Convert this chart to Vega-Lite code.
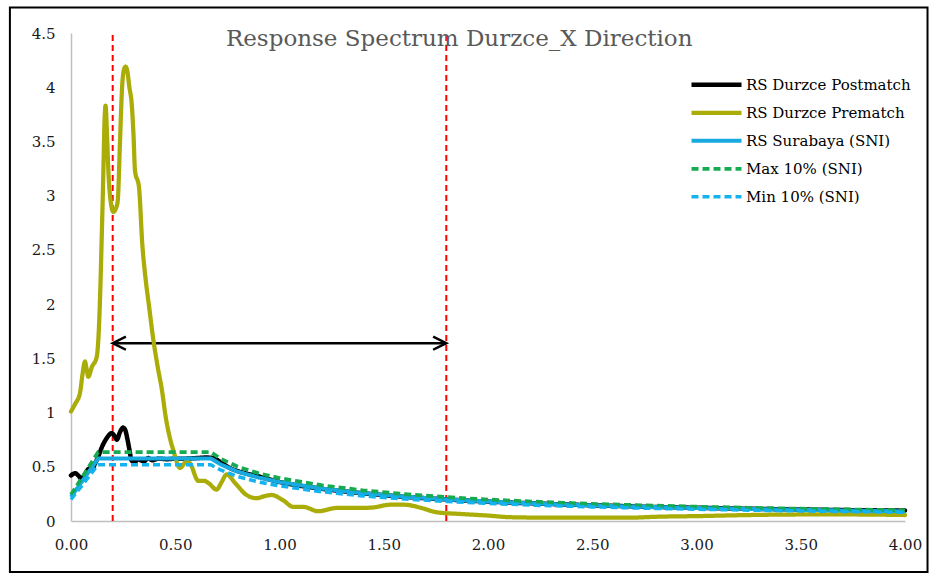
{
  "$schema": "https://vega.github.io/schema/vega-lite/v6.json",
  "autosize": {"type": "none"},
  "width": 834,
  "height": 488,
  "padding": {"left": 71, "top": 33, "right": 25, "bottom": 53},
  "background": "white",
  "config": {
    "view": {"stroke": null},
    "font": "DejaVu Serif",
    "axis": {
      "domainColor": "#BFBFBF",
      "domainWidth": 1.5,
      "ticks": false,
      "grid": false,
      "labelFlush": false,
      "labelFont": "DejaVu Serif",
      "labelFontSize": 15,
      "labelColor": "#1a1a1a",
      "title": null
    },
    "legend": {
      "labelFont": "DejaVu Serif",
      "labelFontSize": 15,
      "labelColor": "#000000",
      "labelLimit": 300
    }
  },
  "datasets": {
    "series": [
      {"s": "RS Durzce Postmatch", "t": 0, "v": 0.42},
      {"s": "RS Durzce Postmatch", "t": 0.02, "v": 0.44},
      {"s": "RS Durzce Postmatch", "t": 0.035, "v": 0.42},
      {"s": "RS Durzce Postmatch", "t": 0.05, "v": 0.39},
      {"s": "RS Durzce Postmatch", "t": 0.07, "v": 0.44},
      {"s": "RS Durzce Postmatch", "t": 0.085, "v": 0.48},
      {"s": "RS Durzce Postmatch", "t": 0.1, "v": 0.47},
      {"s": "RS Durzce Postmatch", "t": 0.115, "v": 0.53},
      {"s": "RS Durzce Postmatch", "t": 0.13, "v": 0.59},
      {"s": "RS Durzce Postmatch", "t": 0.15, "v": 0.69},
      {"s": "RS Durzce Postmatch", "t": 0.17, "v": 0.76},
      {"s": "RS Durzce Postmatch", "t": 0.195, "v": 0.81},
      {"s": "RS Durzce Postmatch", "t": 0.21, "v": 0.78},
      {"s": "RS Durzce Postmatch", "t": 0.22, "v": 0.75},
      {"s": "RS Durzce Postmatch", "t": 0.235, "v": 0.82},
      {"s": "RS Durzce Postmatch", "t": 0.25, "v": 0.86},
      {"s": "RS Durzce Postmatch", "t": 0.26, "v": 0.84},
      {"s": "RS Durzce Postmatch", "t": 0.27, "v": 0.76},
      {"s": "RS Durzce Postmatch", "t": 0.28, "v": 0.66},
      {"s": "RS Durzce Postmatch", "t": 0.29, "v": 0.56},
      {"s": "RS Durzce Postmatch", "t": 0.305, "v": 0.54},
      {"s": "RS Durzce Postmatch", "t": 0.32, "v": 0.57},
      {"s": "RS Durzce Postmatch", "t": 0.335, "v": 0.56},
      {"s": "RS Durzce Postmatch", "t": 0.35, "v": 0.55},
      {"s": "RS Durzce Postmatch", "t": 0.37, "v": 0.58},
      {"s": "RS Durzce Postmatch", "t": 0.39, "v": 0.56},
      {"s": "RS Durzce Postmatch", "t": 0.42, "v": 0.575},
      {"s": "RS Durzce Postmatch", "t": 0.46, "v": 0.57},
      {"s": "RS Durzce Postmatch", "t": 0.5, "v": 0.575},
      {"s": "RS Durzce Postmatch", "t": 0.55, "v": 0.575},
      {"s": "RS Durzce Postmatch", "t": 0.6, "v": 0.58},
      {"s": "RS Durzce Postmatch", "t": 0.65, "v": 0.585},
      {"s": "RS Durzce Postmatch", "t": 0.68, "v": 0.58},
      {"s": "RS Durzce Postmatch", "t": 0.72, "v": 0.54},
      {"s": "RS Durzce Postmatch", "t": 0.76, "v": 0.49},
      {"s": "RS Durzce Postmatch", "t": 0.8, "v": 0.46},
      {"s": "RS Durzce Postmatch", "t": 0.9, "v": 0.41},
      {"s": "RS Durzce Postmatch", "t": 1.0, "v": 0.36},
      {"s": "RS Durzce Postmatch", "t": 1.2, "v": 0.298},
      {"s": "RS Durzce Postmatch", "t": 1.4, "v": 0.256},
      {"s": "RS Durzce Postmatch", "t": 1.6, "v": 0.223},
      {"s": "RS Durzce Postmatch", "t": 1.8, "v": 0.199},
      {"s": "RS Durzce Postmatch", "t": 2.0, "v": 0.179},
      {"s": "RS Durzce Postmatch", "t": 2.25, "v": 0.16},
      {"s": "RS Durzce Postmatch", "t": 2.5, "v": 0.145},
      {"s": "RS Durzce Postmatch", "t": 2.75, "v": 0.132},
      {"s": "RS Durzce Postmatch", "t": 3.0, "v": 0.122},
      {"s": "RS Durzce Postmatch", "t": 3.25, "v": 0.113},
      {"s": "RS Durzce Postmatch", "t": 3.5, "v": 0.106},
      {"s": "RS Durzce Postmatch", "t": 3.75, "v": 0.1},
      {"s": "RS Durzce Postmatch", "t": 4.0, "v": 0.096},

      {"s": "RS Durzce Prematch", "t": 0, "v": 1.01},
      {"s": "RS Durzce Prematch", "t": 0.02, "v": 1.08},
      {"s": "RS Durzce Prematch", "t": 0.043, "v": 1.18},
      {"s": "RS Durzce Prematch", "t": 0.055, "v": 1.35},
      {"s": "RS Durzce Prematch", "t": 0.067, "v": 1.47},
      {"s": "RS Durzce Prematch", "t": 0.075, "v": 1.4},
      {"s": "RS Durzce Prematch", "t": 0.083, "v": 1.33},
      {"s": "RS Durzce Prematch", "t": 0.1, "v": 1.42},
      {"s": "RS Durzce Prematch", "t": 0.123, "v": 1.51},
      {"s": "RS Durzce Prematch", "t": 0.131, "v": 1.67},
      {"s": "RS Durzce Prematch", "t": 0.14, "v": 2.1},
      {"s": "RS Durzce Prematch", "t": 0.147, "v": 2.59},
      {"s": "RS Durzce Prematch", "t": 0.155, "v": 3.2},
      {"s": "RS Durzce Prematch", "t": 0.161, "v": 3.7},
      {"s": "RS Durzce Prematch", "t": 0.166, "v": 3.83},
      {"s": "RS Durzce Prematch", "t": 0.172, "v": 3.6},
      {"s": "RS Durzce Prematch", "t": 0.18, "v": 3.2},
      {"s": "RS Durzce Prematch", "t": 0.19, "v": 2.95},
      {"s": "RS Durzce Prematch", "t": 0.203, "v": 2.85},
      {"s": "RS Durzce Prematch", "t": 0.215, "v": 2.88},
      {"s": "RS Durzce Prematch", "t": 0.224, "v": 2.95},
      {"s": "RS Durzce Prematch", "t": 0.235, "v": 3.5},
      {"s": "RS Durzce Prematch", "t": 0.245, "v": 4.0},
      {"s": "RS Durzce Prematch", "t": 0.255, "v": 4.17},
      {"s": "RS Durzce Prematch", "t": 0.262, "v": 4.19},
      {"s": "RS Durzce Prematch", "t": 0.27, "v": 4.15},
      {"s": "RS Durzce Prematch", "t": 0.28, "v": 4.0},
      {"s": "RS Durzce Prematch", "t": 0.291, "v": 3.85},
      {"s": "RS Durzce Prematch", "t": 0.3, "v": 3.55},
      {"s": "RS Durzce Prematch", "t": 0.307, "v": 3.23},
      {"s": "RS Durzce Prematch", "t": 0.326, "v": 3.08},
      {"s": "RS Durzce Prematch", "t": 0.342, "v": 2.55},
      {"s": "RS Durzce Prematch", "t": 0.355, "v": 2.28},
      {"s": "RS Durzce Prematch", "t": 0.375, "v": 1.97},
      {"s": "RS Durzce Prematch", "t": 0.395, "v": 1.67},
      {"s": "RS Durzce Prematch", "t": 0.415, "v": 1.43},
      {"s": "RS Durzce Prematch", "t": 0.435, "v": 1.22},
      {"s": "RS Durzce Prematch", "t": 0.455, "v": 0.95},
      {"s": "RS Durzce Prematch", "t": 0.475, "v": 0.76},
      {"s": "RS Durzce Prematch", "t": 0.491, "v": 0.65},
      {"s": "RS Durzce Prematch", "t": 0.523, "v": 0.49},
      {"s": "RS Durzce Prematch", "t": 0.555, "v": 0.55},
      {"s": "RS Durzce Prematch", "t": 0.571, "v": 0.53},
      {"s": "RS Durzce Prematch", "t": 0.611, "v": 0.37},
      {"s": "RS Durzce Prematch", "t": 0.64, "v": 0.37},
      {"s": "RS Durzce Prematch", "t": 0.659, "v": 0.35},
      {"s": "RS Durzce Prematch", "t": 0.699, "v": 0.29},
      {"s": "RS Durzce Prematch", "t": 0.72, "v": 0.35},
      {"s": "RS Durzce Prematch", "t": 0.747, "v": 0.43},
      {"s": "RS Durzce Prematch", "t": 0.787, "v": 0.35},
      {"s": "RS Durzce Prematch", "t": 0.842, "v": 0.24},
      {"s": "RS Durzce Prematch", "t": 0.89, "v": 0.21},
      {"s": "RS Durzce Prematch", "t": 0.93, "v": 0.23},
      {"s": "RS Durzce Prematch", "t": 0.962, "v": 0.24},
      {"s": "RS Durzce Prematch", "t": 1.018, "v": 0.19},
      {"s": "RS Durzce Prematch", "t": 1.066, "v": 0.13},
      {"s": "RS Durzce Prematch", "t": 1.114, "v": 0.13},
      {"s": "RS Durzce Prematch", "t": 1.186, "v": 0.09},
      {"s": "RS Durzce Prematch", "t": 1.274, "v": 0.12},
      {"s": "RS Durzce Prematch", "t": 1.386, "v": 0.12},
      {"s": "RS Durzce Prematch", "t": 1.45, "v": 0.125},
      {"s": "RS Durzce Prematch", "t": 1.53, "v": 0.15},
      {"s": "RS Durzce Prematch", "t": 1.6, "v": 0.15},
      {"s": "RS Durzce Prematch", "t": 1.68, "v": 0.12},
      {"s": "RS Durzce Prematch", "t": 1.754, "v": 0.08},
      {"s": "RS Durzce Prematch", "t": 1.866, "v": 0.065},
      {"s": "RS Durzce Prematch", "t": 2.0, "v": 0.05},
      {"s": "RS Durzce Prematch", "t": 2.105, "v": 0.035},
      {"s": "RS Durzce Prematch", "t": 2.345, "v": 0.03},
      {"s": "RS Durzce Prematch", "t": 2.665, "v": 0.03},
      {"s": "RS Durzce Prematch", "t": 2.825, "v": 0.04},
      {"s": "RS Durzce Prematch", "t": 3.0, "v": 0.045},
      {"s": "RS Durzce Prematch", "t": 3.25, "v": 0.055},
      {"s": "RS Durzce Prematch", "t": 3.5, "v": 0.06},
      {"s": "RS Durzce Prematch", "t": 3.75, "v": 0.06},
      {"s": "RS Durzce Prematch", "t": 4.0, "v": 0.055},

      {"s": "RS Surabaya (SNI)", "t": 0, "v": 0.22},
      {"s": "RS Surabaya (SNI)", "t": 0.13, "v": 0.577},
      {"s": "RS Surabaya (SNI)", "t": 0.67, "v": 0.577},
      {"s": "RS Surabaya (SNI)", "t": 0.72, "v": 0.52},
      {"s": "RS Surabaya (SNI)", "t": 0.8, "v": 0.455},
      {"s": "RS Surabaya (SNI)", "t": 0.9, "v": 0.4},
      {"s": "RS Surabaya (SNI)", "t": 1.0, "v": 0.36},
      {"s": "RS Surabaya (SNI)", "t": 1.2, "v": 0.3},
      {"s": "RS Surabaya (SNI)", "t": 1.4, "v": 0.257},
      {"s": "RS Surabaya (SNI)", "t": 1.6, "v": 0.225},
      {"s": "RS Surabaya (SNI)", "t": 1.8, "v": 0.2},
      {"s": "RS Surabaya (SNI)", "t": 2.0, "v": 0.18},
      {"s": "RS Surabaya (SNI)", "t": 2.25, "v": 0.16},
      {"s": "RS Surabaya (SNI)", "t": 2.5, "v": 0.144},
      {"s": "RS Surabaya (SNI)", "t": 2.75, "v": 0.131},
      {"s": "RS Surabaya (SNI)", "t": 3.0, "v": 0.12},
      {"s": "RS Surabaya (SNI)", "t": 3.25, "v": 0.111},
      {"s": "RS Surabaya (SNI)", "t": 3.5, "v": 0.103},
      {"s": "RS Surabaya (SNI)", "t": 3.75, "v": 0.096},
      {"s": "RS Surabaya (SNI)", "t": 4.0, "v": 0.09},

      {"s": "Max 10% (SNI)", "t": 0, "v": 0.242},
      {"s": "Max 10% (SNI)", "t": 0.13, "v": 0.635},
      {"s": "Max 10% (SNI)", "t": 0.67, "v": 0.635},
      {"s": "Max 10% (SNI)", "t": 0.72, "v": 0.572},
      {"s": "Max 10% (SNI)", "t": 0.8, "v": 0.5},
      {"s": "Max 10% (SNI)", "t": 0.9, "v": 0.44},
      {"s": "Max 10% (SNI)", "t": 1.0, "v": 0.396},
      {"s": "Max 10% (SNI)", "t": 1.2, "v": 0.33},
      {"s": "Max 10% (SNI)", "t": 1.4, "v": 0.283},
      {"s": "Max 10% (SNI)", "t": 1.6, "v": 0.248},
      {"s": "Max 10% (SNI)", "t": 1.8, "v": 0.22},
      {"s": "Max 10% (SNI)", "t": 2.0, "v": 0.198},
      {"s": "Max 10% (SNI)", "t": 2.25, "v": 0.176},
      {"s": "Max 10% (SNI)", "t": 2.5, "v": 0.158},
      {"s": "Max 10% (SNI)", "t": 2.75, "v": 0.144},
      {"s": "Max 10% (SNI)", "t": 3.0, "v": 0.132},
      {"s": "Max 10% (SNI)", "t": 3.25, "v": 0.122},
      {"s": "Max 10% (SNI)", "t": 3.5, "v": 0.113},
      {"s": "Max 10% (SNI)", "t": 3.75, "v": 0.106},
      {"s": "Max 10% (SNI)", "t": 4.0, "v": 0.099},

      {"s": "Min 10% (SNI)", "t": 0, "v": 0.198},
      {"s": "Min 10% (SNI)", "t": 0.13, "v": 0.519},
      {"s": "Min 10% (SNI)", "t": 0.67, "v": 0.519},
      {"s": "Min 10% (SNI)", "t": 0.72, "v": 0.468},
      {"s": "Min 10% (SNI)", "t": 0.8, "v": 0.41},
      {"s": "Min 10% (SNI)", "t": 0.9, "v": 0.36},
      {"s": "Min 10% (SNI)", "t": 1.0, "v": 0.324},
      {"s": "Min 10% (SNI)", "t": 1.2, "v": 0.27},
      {"s": "Min 10% (SNI)", "t": 1.4, "v": 0.231},
      {"s": "Min 10% (SNI)", "t": 1.6, "v": 0.203},
      {"s": "Min 10% (SNI)", "t": 1.8, "v": 0.18},
      {"s": "Min 10% (SNI)", "t": 2.0, "v": 0.162},
      {"s": "Min 10% (SNI)", "t": 2.25, "v": 0.144},
      {"s": "Min 10% (SNI)", "t": 2.5, "v": 0.13},
      {"s": "Min 10% (SNI)", "t": 2.75, "v": 0.118},
      {"s": "Min 10% (SNI)", "t": 3.0, "v": 0.108},
      {"s": "Min 10% (SNI)", "t": 3.25, "v": 0.1},
      {"s": "Min 10% (SNI)", "t": 3.5, "v": 0.093},
      {"s": "Min 10% (SNI)", "t": 3.75, "v": 0.086},
      {"s": "Min 10% (SNI)", "t": 4.0, "v": 0.081}
    ],
    "limits": [{"t": 0.2}, {"t": 1.8}],
    "arrow": [{"t1": 0.2, "t2": 1.8, "v": 1.64}],
    "heads": [{"t": 0.2, "v": 1.64, "side": "left"}, {"t": 1.8, "v": 1.64, "side": "right"}],
    "titles": [{"text": "Response Spectrum Durzce_X Direction", "t": 1.862, "v": 4.383}]
  },
  "layer": [
    {
      "data": {"name": "limits"},
      "mark": {"type": "rule", "color": "#FF0000", "strokeWidth": 2, "strokeDash": [6, 4]},
      "encoding": {
        "x": {"field": "t", "type": "quantitative", "scale": {"domain": [0, 4], "nice": false, "zero": false}},
        "y": {"datum": 0, "type": "quantitative", "scale": {"domain": [0, 4.5], "nice": false}},
        "y2": {"datum": 4.5}
      }
    },
    {
      "data": {"name": "arrow"},
      "mark": {"type": "rule", "color": "#000000", "strokeWidth": 2.5},
      "encoding": {
        "x": {"field": "t1", "type": "quantitative"},
        "x2": {"field": "t2"},
        "y": {"field": "v", "type": "quantitative"}
      }
    },
    {
      "data": {"name": "heads"},
      "transform": [{"filter": "datum.side === 'left'"}],
      "mark": {"type": "point", "shape": "M1.2,-0.6L0,0L1.2,0.6", "filled": false, "stroke": "#000000", "strokeWidth": 2.5, "size": 484, "opacity": 1},
      "encoding": {
        "x": {"field": "t", "type": "quantitative"},
        "y": {"field": "v", "type": "quantitative"}
      }
    },
    {
      "data": {"name": "heads"},
      "transform": [{"filter": "datum.side === 'right'"}],
      "mark": {"type": "point", "shape": "M-1.2,-0.6L0,0L-1.2,0.6", "filled": false, "stroke": "#000000", "strokeWidth": 2.5, "size": 484, "opacity": 1},
      "encoding": {
        "x": {"field": "t", "type": "quantitative"},
        "y": {"field": "v", "type": "quantitative"}
      }
    },
    {
      "data": {"name": "series"},
      "transform": [{"filter": "datum.s === 'RS Durzce Postmatch'"}],
      "mark": {"type": "line", "interpolate": "monotone", "strokeCap": "round", "strokeJoin": "round"},
      "encoding": {
        "x": {"field": "t", "type": "quantitative", "axis": {"values": [0, 0.5, 1, 1.5, 2, 2.5, 3, 3.5, 4], "format": ".2f", "labelPadding": 16}},
        "y": {"field": "v", "type": "quantitative", "axis": {"values": [0, 0.5, 1, 1.5, 2, 2.5, 3, 3.5, 4, 4.5], "format": "~g", "labelPadding": 16}},
        "color": {"field": "s", "type": "nominal", "scale": {"domain": ["RS Durzce Postmatch", "RS Durzce Prematch", "RS Surabaya (SNI)", "Max 10% (SNI)", "Min 10% (SNI)"], "range": ["#000000", "#AAAC08", "#19A9E1", "#16AA52", "#12B3EE"]},
          "legend": {"title": null, "orient": "none", "legendX": 618, "legendY": 38, "symbolType": "stroke", "symbolSize": 2500, "labelOffset": 2, "rowPadding": 0, "clipHeight": 27.5, "padding": 0, "labelLimit": 300}},
        "strokeDash": {"field": "s", "type": "nominal", "scale": {"domain": ["RS Durzce Postmatch", "RS Durzce Prematch", "RS Surabaya (SNI)", "Max 10% (SNI)", "Min 10% (SNI)"], "range": [[1, 0], [1, 0], [1, 0], [7, 4], [7, 4]]}},
        "strokeWidth": {"field": "s", "type": "nominal", "scale": {"domain": ["RS Durzce Postmatch", "RS Durzce Prematch", "RS Surabaya (SNI)", "Max 10% (SNI)", "Min 10% (SNI)"], "range": [4.5, 3.5, 2.5, 2.5, 2.5]}}
      }
    },
    {
      "data": {"name": "series"},
      "transform": [{"filter": "datum.s === 'RS Durzce Prematch'"}],
      "mark": {"type": "line", "interpolate": "monotone", "strokeCap": "round", "strokeJoin": "round"},
      "encoding": {
        "x": {"field": "t", "type": "quantitative"},
        "y": {"field": "v", "type": "quantitative"},
        "color": {"field": "s", "type": "nominal"},
        "strokeDash": {"field": "s", "type": "nominal"},
        "strokeWidth": {"field": "s", "type": "nominal"}
      }
    },
    {
      "data": {"name": "series"},
      "transform": [{"filter": "datum.s === 'RS Surabaya (SNI)' || datum.s === 'Max 10% (SNI)' || datum.s === 'Min 10% (SNI)'"}],
      "mark": {"type": "line"},
      "encoding": {
        "x": {"field": "t", "type": "quantitative"},
        "y": {"field": "v", "type": "quantitative"},
        "color": {"field": "s", "type": "nominal"},
        "strokeDash": {"field": "s", "type": "nominal"},
        "strokeWidth": {"field": "s", "type": "nominal"}
      }
    },
    {
      "data": {"name": "titles"},
      "mark": {"type": "text", "font": "DejaVu Serif", "fontSize": 23, "color": "#595959", "align": "center", "baseline": "alphabetic"},
      "encoding": {
        "x": {"field": "t", "type": "quantitative"},
        "y": {"field": "v", "type": "quantitative"},
        "text": {"field": "text"}
      }
    },
    {
      "data": {"values": [{"a": 1}]},
      "mark": {"type": "rect", "fill": null, "fillOpacity": 0, "stroke": "#000000", "strokeWidth": 2},
      "encoding": {
        "x": {"datum": -0.293, "type": "quantitative"},
        "x2": {"datum": 4.108},
        "y": {"datum": 4.735, "type": "quantitative"},
        "y2": {"datum": -0.47}
      }
    }
  ]
}
